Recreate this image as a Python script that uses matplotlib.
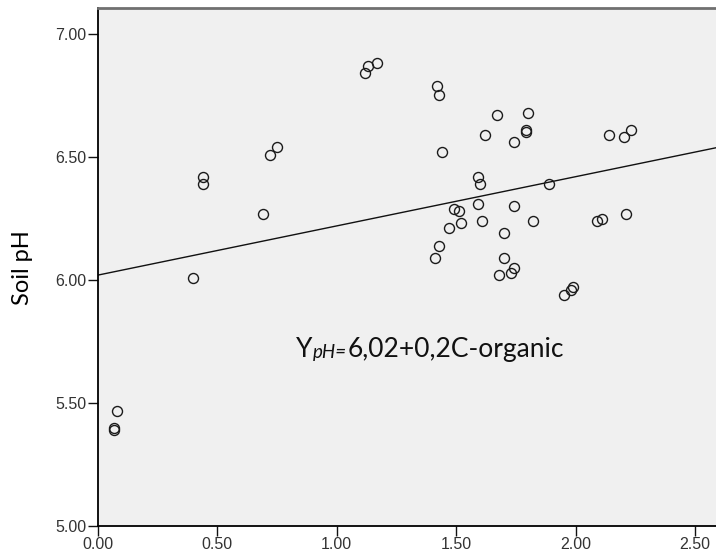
import matplotlib
matplotlib.use("Agg")
import matplotlib.pyplot as plt
from matplotlib.transforms import IdentityTransform
import numpy as np

# organic carbon (%) and soil pH
c_organic = [0.08, 0.07, 0.07, 0.40, 0.44, 0.44, 0.69, 0.72, 0.75,
             1.12, 1.13, 1.17, 1.42, 1.43, 1.44, 1.41, 1.43, 1.47,
             1.49, 1.51, 1.52, 1.59, 1.60, 1.59, 1.61, 1.62, 1.67,
             1.68, 1.70, 1.70, 1.73, 1.74, 1.74, 1.74, 1.79, 1.79,
             1.80, 1.82, 1.89, 1.95, 1.98, 1.99, 2.09, 2.11, 2.14,
             2.20, 2.23, 2.21]
soil_ph = [5.47, 5.40, 5.39, 6.01, 6.42, 6.39, 6.27, 6.51, 6.54,
           6.84, 6.87, 6.88, 6.79, 6.75, 6.52, 6.09, 6.14, 6.21,
           6.29, 6.28, 6.23, 6.42, 6.39, 6.31, 6.24, 6.59, 6.67,
           6.02, 6.19, 6.09, 6.03, 6.05, 6.30, 6.56, 6.61, 6.60,
           6.68, 6.24, 6.39, 5.94, 5.96, 5.97, 6.24, 6.25, 6.59,
           6.58, 6.61, 6.27]

intercept = 6.02
slope = 0.2

x_ticks = [0.0, 0.5, 1.0, 1.5, 2.0, 2.5]
y_ticks = [5.0, 5.5, 6.0, 6.5, 7.0]
x_lim = (0.0, 2.587)
y_lim = (5.0, 7.105)

fig = plt.figure(figsize=(7.16, 5.58), dpi=100)
ax = fig.add_axes([97.7 / 716, 1 - 526.3 / 558, 1 - 97.7 / 716, (526.3 - 8) / 558])
ax.set_facecolor('#f0f0f0')

ax.plot(c_organic, soil_ph, 'o', ms=7.2, mfc='none', mec='#1a1a1a', mew=1.0, zorder=3)

line_x = np.array(x_lim)
ax.plot(line_x, intercept + slope * line_x, color='#111111', lw=1.0, zorder=2)

ax.set_xlim(*x_lim)
ax.set_ylim(*y_lim)
ax.set_xticks(x_ticks)
ax.set_yticks(y_ticks)
ax.set_xticklabels([f"{v:.2f}" for v in x_ticks])
ax.set_yticklabels([f"{v:.2f}" for v in y_ticks])
ax.tick_params(direction='out', length=7, width=1.0, pad=1, labelsize=11.5,
               labelcolor='#333333', color='#111111')
for lab in ax.get_xticklabels() + ax.get_yticklabels():
    lab.set_family('Liberation Sans')

ax.spines['right'].set_visible(False)
ax.spines['top'].set_color('#707070')
ax.spines['top'].set_linewidth(2.0)
ax.spines['left'].set_linewidth(1.3)
ax.spines['bottom'].set_linewidth(1.3)

ax.set_ylabel('Soil pH', fontsize=17, family='Lato', labelpad=16)

# regression equation, built from three pieces laid side by side (pixels)
fig.canvas.draw()
rend = fig.canvas.get_renderer()
eq_font = dict(family='Lato', color='#111111', va='baseline', ha='left',
               transform=IdentityTransform())
x0, base = 296.0, 558 - 356.7
t1 = fig.text(x0, base, 'Y', fontsize=19, **eq_font)
bb = t1.get_window_extent(rend)
t2 = fig.text(bb.x1 + 0.5, base - 1.5, 'pH=', fontsize=13.5, style='italic', **eq_font)
bb = t2.get_window_extent(rend)
fig.text(bb.x1 + 0.5, base, '6,02+0,2C-organic', fontsize=19, **eq_font)

fig.savefig('out.png', dpi=100)
